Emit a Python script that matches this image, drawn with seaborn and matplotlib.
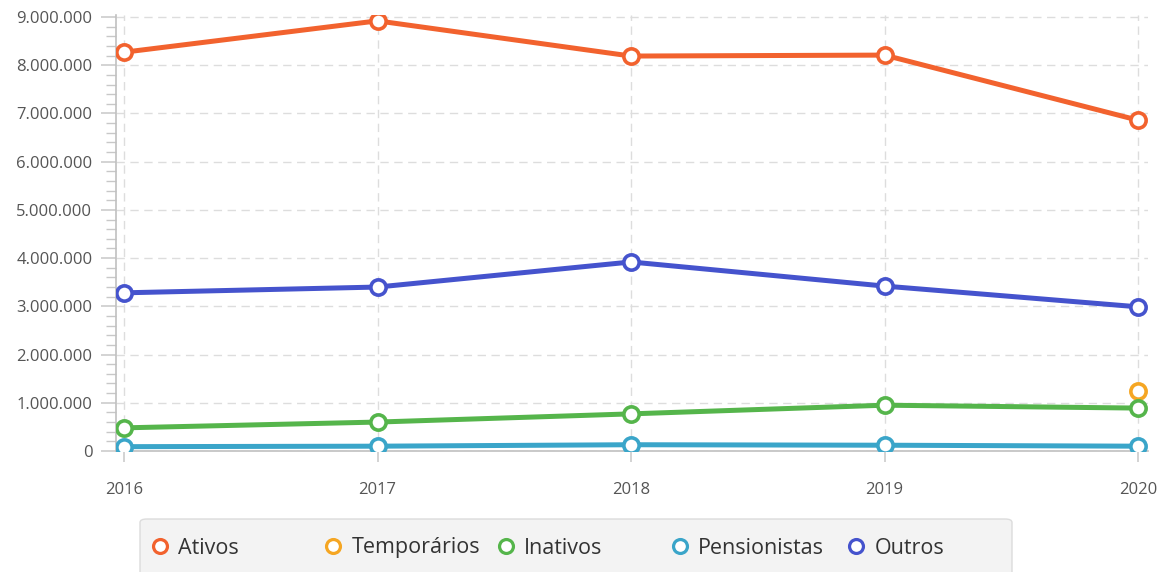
import matplotlib
matplotlib.use("Agg")
import matplotlib.pyplot as plt
import matplotlib.ticker as mticker
from matplotlib.patches import FancyBboxPatch
from matplotlib.lines import Line2D
import seaborn as sns
import numpy as np
import pandas as pd

years = [2016, 2017, 2018, 2019, 2020]
ativos = [8270000, 8920000, 8190000, 8210000, 6860000]
temporarios = [np.nan, np.nan, np.nan, np.nan, 1240000]
inativos = [480000, 600000, 770000, 950000, 890000]
pensionistas = [90000, 100000, 130000, 120000, 100000]
outros = [3280000, 3400000, 3920000, 3420000, 2990000]

series_names = ["Ativos", "Temporários", "Inativos", "Pensionistas", "Outros"]
series_vals = [ativos, temporarios, inativos, pensionistas, outros]
colors = ["#f2622e", "#f5a623", "#55b54b", "#3aa5c9", "#4553cd"]
y_ticks = list(range(0, 9000001, 1000000))

sns.set_theme(style="white")
plt.rcParams["font.family"] = ["Open Sans", "DejaVu Sans"]

fig = plt.figure(figsize=(11.58, 5.72), dpi=100)
W, H = 1158, 572
ax = fig.add_axes([116 / W, (H - 451) / H, (1148 - 116) / W, (451 - 15) / H])

for name, vals, col in zip(series_names, series_vals, colors):
    df = pd.DataFrame({"year": years, "value": vals}).dropna()
    sns.lineplot(data=df, x="year", y="value", ax=ax, color=col, linewidth=3.6,
                 marker="o", markersize=11, markerfacecolor="white",
                 markeredgecolor=col, markeredgewidth=2.6, zorder=3)

ax.set_xlim(2016 - 8 / 253.5, 2020 + 10 / 253.5)
ax.set_ylim(0, 9000000 + 2 / 48.22 * 1000000)
ax.set_xticks(years)
ax.set_yticks(y_ticks)
ax.yaxis.set_minor_locator(mticker.MultipleLocator(200000))
ax.yaxis.set_major_formatter(mticker.FuncFormatter(lambda v, p: f"{int(v):,}".replace(",", ".")))
ax.set_xlabel("")
ax.set_ylabel("")

ax.grid(True, which="major", color="#dddddd", linestyle=(0, (6, 4)), linewidth=1.0, zorder=0)
ax.set_axisbelow(True)
for s in ["top", "right"]:
    ax.spines[s].set_visible(False)
ax.spines["left"].set_color("#c0c0c0")
ax.spines["bottom"].set_color("#c0c0c0")
ax.spines["left"].set_linewidth(1.2)
ax.spines["bottom"].set_linewidth(1.2)

ax.tick_params(axis="y", which="major", left=True, length=11, width=1.1, color="#c8c8c8",
               labelsize=12, labelcolor="#555555", pad=6)
ax.tick_params(axis="y", which="minor", left=True, length=7, width=1.0, color="#c8c8c8")
ax.tick_params(axis="x", which="major", bottom=True, length=8, width=1.1, color="#c8c8c8",
               labelsize=12, labelcolor="#555555", pad=14)

# Legend box
box = FancyBboxPatch((140 / W, -10 / H), (1012 - 140) / W, (H - 519 + 10) / H,
                     boxstyle="round,pad=0,rounding_size=0.006", transform=fig.transFigure,
                     facecolor="#f3f3f3", edgecolor="#dcdcdc", linewidth=1.0)
fig.patches.append(box)

marker_centers = [160, 333, 506, 680, 856]
fs = 15.5
hl = 0.7
half_px = hl * fs * 100 / 72 / 2
for name, col, mc in zip(series_names, colors, marker_centers):
    h = Line2D([], [], linestyle="none", marker="o", markersize=10, markerfacecolor="white",
               markeredgecolor=col, markeredgewidth=2.3)
    fig.legend([h], [name], loc="center left", bbox_to_anchor=((mc - half_px) / W, 1 - 548 / H),
               frameon=False, fontsize=fs, handlelength=hl, handletextpad=0.5,
               borderpad=0, borderaxespad=0, labelcolor="#333333")

fig.savefig("out.png", dpi=100)
